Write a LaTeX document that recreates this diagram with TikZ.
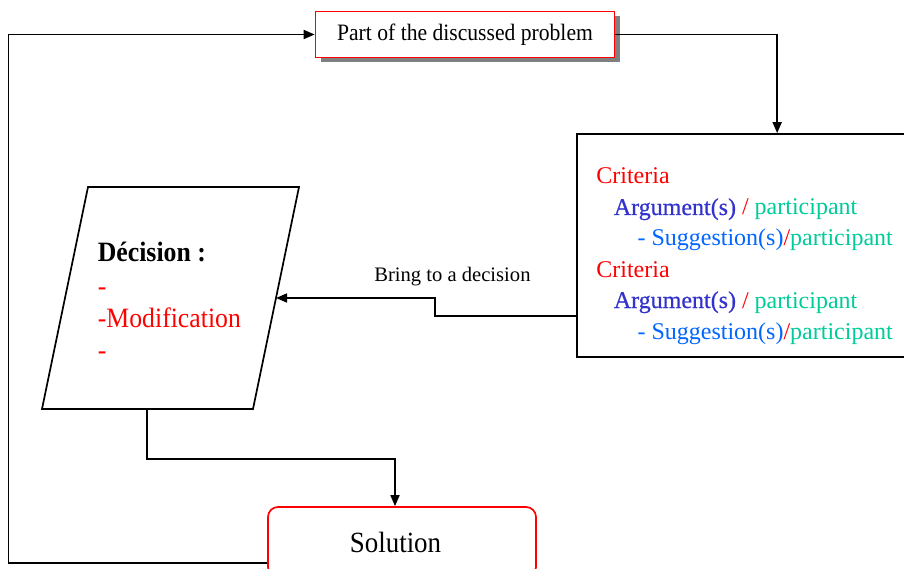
\documentclass[tikz,border=0pt]{standalone}
\usepackage{fontspec}
\setmainfont{Liberation Serif}
\newfontfamily\condserif{Liberation Serif}[FakeStretch=0.92]
\newfontface\heavyserif{Liberation Serif}[FakeBold=0.6]
\usetikzlibrary{arrows.meta,shadows,calc}
\definecolor{critred}{RGB}{255,0,0}
\definecolor{argblue}{RGB}{51,51,204}
\definecolor{sugblue}{RGB}{0,102,255}
\definecolor{partgreen}{RGB}{0,204,153}
\definecolor{shadowgray}{RGB}{128,128,128}

\begin{document}
\begin{tikzpicture}[x=1pt,y=-1pt,
  line width=1.7pt,
  conn/.style={line width=1.7pt,-{Triangle[length=11pt,width=9pt]}},
  stepbox/.style={draw=critred,fill=white,inner sep=0pt,
    drop shadow={shadow xshift=5pt,shadow yshift=-5pt,fill=shadowgray,opacity=1}},
  critbox/.style={draw=black,fill=white,inner sep=0pt},
  solbox/.style={draw=critred,fill=white,rounded corners=10pt,inner sep=0pt},
  line/.style={inner sep=0pt,anchor=base west},
  crittext/.style={line,font=\fontsize{24}{28}\selectfont},
  dectext/.style={line,font=\condserif\fontsize{28}{32}\selectfont},
]
\clip (0,0) rectangle (904,569);

% boxes
\node[stepbox,minimum width=299pt,minimum height=46pt,
      font=\condserif\fontsize{23.5}{28}\selectfont] (top) at (465,34.5)
      {Part of the discussed problem};
\node[critbox,minimum width=335pt,minimum height=223pt] (crit) at (744.5,245.5) {};
\node[solbox,minimum width=268pt,minimum height=70pt] (solution) at (402,542) {};
\node[inner sep=0pt,font=\condserif\fontsize{29.3}{34}\selectfont] (soltext) at (395.5,542) {Solution};

% decision parallelogram
\coordinate (pTL) at (88,187);
\coordinate (pTR) at (299,187);
\coordinate (pBR) at (253,409);
\coordinate (pBL) at (42,409);
\draw (pTL) -- (pTR) -- (pBR) -- (pBL) -- cycle;
\coordinate (decR) at ($(pTR)!0.5!(pBR)$);
\coordinate (decB) at (147,409);

% criteria list
\node[crittext,text=critred] (c1) at (595.5,184) {Criteria};
\node[crittext] (c2) at (613,215)
  {\textcolor{argblue}{\heavyserif Argument(s)} \textcolor{critred}{/} \textcolor{partgreen}{participant}};
\node[crittext] (c3) at (636.7,246)
  {\textcolor{sugblue}{- Suggestion(s)}\textcolor{critred}{/}\textcolor{partgreen}{participant}};
\node[crittext,text=critred] (c4) at (595.5,277) {Criteria};
\node[crittext] (c5) at (613,308)
  {\textcolor{argblue}{\heavyserif Argument(s)} \textcolor{critred}{/} \textcolor{partgreen}{participant}};
\node[crittext] (c6) at (636.7,339)
  {\textcolor{sugblue}{- Suggestion(s)}\textcolor{critred}{/}\textcolor{partgreen}{participant}};

% decision text
\node[dectext,font=\condserif\bfseries\fontsize{28}{32}\selectfont] (d1) at (97,261.7) {Décision :};
\node[dectext,text=critred] (d2) at (97,295) {-};
\node[dectext,text=critred] (d3) at (97,327) {-Modification};
\node[dectext,text=critred] (d4) at (97,359.4) {-};

% connector label
\node[line,font=\fontsize{20.6}{24}\selectfont] (bring) at (373.5,281) {Bring to a decision};

% connectors
\draw[conn] (top.east) -| ($(crit.north west)+(201,0)$);
\draw[conn] ([yshift=-70.5pt]crit.west) -- ++(-141,0) |- (decR);
\draw[conn] (decB) -- ++(0,50) -| ([xshift=-7pt]solution.north);
\draw[conn] ([yshift=-21pt]solution.west) -- ++(-258.7,0) |- (top.west);
\end{tikzpicture}
\end{document}
